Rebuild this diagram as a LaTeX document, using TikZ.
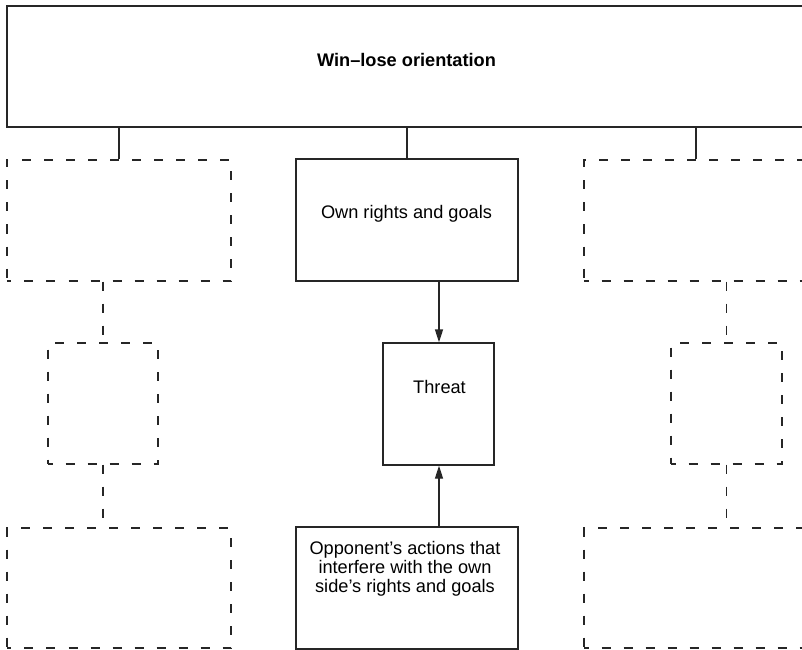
\documentclass[tikz,border=0pt]{standalone}
\usepackage{fontspec}
\setmainfont{Liberation Sans}
\usetikzlibrary{arrows.meta}
\begin{document}
\begin{tikzpicture}[x=1bp,y=-1bp,
  line/.style={draw=black!85, line width=1.3bp},
  solidbox/.style={line, rectangle, inner sep=0pt},
  ghostbox/.style={line, rectangle, inner sep=0pt, dash pattern=on 9bp off 13bp, dash phase=4.5bp},
  ghostlink/.style={line, dash pattern=on 9bp off 13bp},
  link/.style={line},
  arrowlink/.style={line, -{Triangle[length=13bp,width=8bp]}},
  lbl/.style={font=\fontsize{18.2bp}{19bp}\selectfont, inner sep=0pt, anchor=base, align=center},
]
\useasboundingbox (0,0) rectangle (802,650);
\clip (0,0) rectangle (802,650);

% heading box (runs past the right edge)
\node[solidbox, minimum width=801bp, minimum height=121bp] (top) at (407.5,66.5) {};
\node[lbl, font=\fontsize{18.2bp}{19bp}\selectfont\bfseries] (topTxt) at (406.5,67) {Win--lose orientation};

% central column
\node[solidbox, minimum width=222bp, minimum height=122bp] (own) at (407,220) {};
\node[lbl] (ownTxt) at (406.5,218) {Own rights and goals};
\node[solidbox, minimum width=111bp, minimum height=122bp] (threat) at (438.5,404) {};
\node[lbl] (threatTxt) at (439.5,393) {Threat};
\node[solidbox, minimum width=222bp, minimum height=122bp] (opp) at (407,588) {};
% a multi-line label sits on the baseline of its last line
\node[lbl] (oppTxt) at (405,592) {Opponent’s actions that\\interfere with the own\\side’s rights and goals};

% left column (empty)
\node[ghostbox, minimum width=224bp, minimum height=121bp] (lt) at (119,220.5) {};
\node[ghostbox, minimum width=110bp, minimum height=121bp] (lm) at (103,403.5) {};
\node[ghostbox, minimum width=224bp, minimum height=120bp] (lb) at (119,588) {};

% right column (empty, partly past the edge)
\node[ghostbox, minimum width=224bp, minimum height=121bp] (rt) at (696,220.5) {};
\node[ghostbox, minimum width=111bp, minimum height=121bp] (rm) at (726.5,403.5) {};
\node[ghostbox, minimum width=224bp, minimum height=120bp] (rb) at (696,588) {};

% links from the heading
\draw[link] (top.south -| lt.north) -- (lt.north);
\draw[link] (top.south -| own.north) -- (own.north);
\draw[link] (top.south -| rt.north) -- (rt.north);

% dashed links in the side columns
\draw[ghostlink] (lt.south -| lm.north) -- (lm.north);
\draw[ghostlink] (lm.south) -- (lb.north -| lm.south);
\draw[ghostlink] (rt.south -| rm.north) -- (rm.north);
\draw[ghostlink] (rm.south) -- (rb.north -| rm.south);

% arrows into the threat box (nudged onto the pixel grid)
\draw[arrowlink] ([xshift=0.5bp]own.south -| threat.north) -- ([xshift=0.5bp]threat.north);
\draw[arrowlink] ([xshift=0.5bp]opp.north -| threat.south) -- ([xshift=0.5bp]threat.south);
\end{tikzpicture}
\end{document}
